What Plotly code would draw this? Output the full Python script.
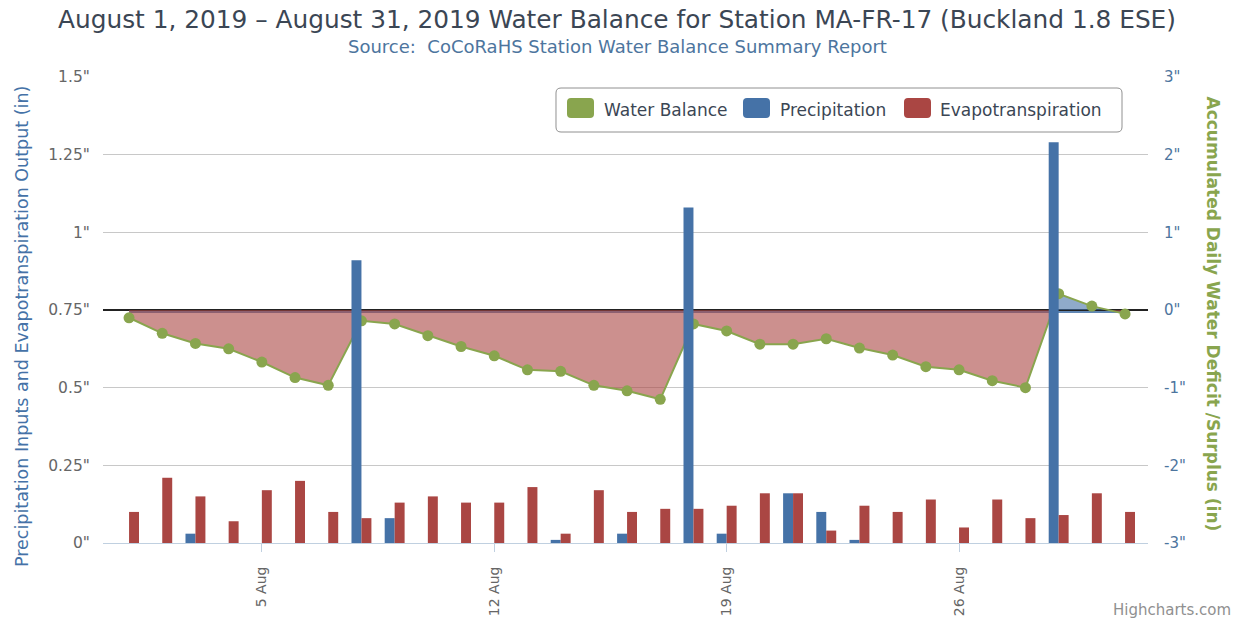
import plotly.graph_objects as go
import pandas as pd

# ---------------- data ----------------
days = pd.date_range("2019-08-01", "2019-08-31", freq="D")
precipitation = [0.00, 0.00, 0.03, 0.00, 0.00, 0.00, 0.00, 0.91, 0.08, 0.00,
                 0.00, 0.00, 0.00, 0.01, 0.00, 0.03, 0.00, 1.08, 0.03, 0.00,
                 0.16, 0.10, 0.01, 0.00, 0.00, 0.00, 0.00, 0.00, 1.29, 0.00, 0.00]
evapotranspiration = [0.10, 0.21, 0.15, 0.07, 0.17, 0.20, 0.10, 0.08, 0.13, 0.15,
                      0.13, 0.13, 0.18, 0.03, 0.17, 0.10, 0.11, 0.11, 0.12, 0.16,
                      0.16, 0.04, 0.12, 0.10, 0.14, 0.05, 0.14, 0.08, 0.09, 0.16, 0.10]
water_balance = [-0.10, -0.30, -0.43, -0.50, -0.67, -0.87, -0.97, -0.14, -0.18, -0.33,
                 -0.47, -0.59, -0.77, -0.79, -0.97, -1.04, -1.15, -0.18, -0.27, -0.44,
                 -0.44, -0.37, -0.49, -0.58, -0.73, -0.77, -0.91, -1.00, 0.21, 0.05, -0.05]

x_tick_dates = ["2019-08-05", "2019-08-12", "2019-08-19", "2019-08-26"]
x_tick_labels = ["5 Aug", "12 Aug", "19 Aug", "26 Aug"]
left_ticks = [0, 0.25, 0.5, 0.75, 1, 1.25, 1.5]
left_tick_labels = ['0"', '0.25"', '0.5"', '0.75"', '1"', '1.25"', '1.5"']
right_ticks = [-3, -2, -1, 0, 1, 2, 3]
right_tick_labels = ['-3"', '-2"', '-1"', '0"', '1"', '2"', '3"']

# ---------------- style / layout (pixels) ----------------
BLUE = "#4572A7"
RED = "#AA4643"
GREEN = "#89A54E"
FONT = "DejaVu Sans"
TITLE_COLOR = "#3b4654"
W, H = 1244, 622
L, R, T, B = 103, 1148, 77, 543      # plot area in pixels
DAY_MS = 86400000
BAR_W = 0.30 * DAY_MS


def px_x(px):
    return (px - L) / (R - L)


def px_y(py):
    return (B - py) / (B - T)


def rrect(x0, y0, x1, y1, r):
    """rounded rectangle path, pixel input -> paper coords"""
    pts = [
        ("M", [(x0 + r, y0)]), ("L", [(x1 - r, y0)]), ("Q", [(x1, y0), (x1, y0 + r)]),
        ("L", [(x1, y1 - r)]), ("Q", [(x1, y1), (x1 - r, y1)]),
        ("L", [(x0 + r, y1)]), ("Q", [(x0, y1), (x0, y1 - r)]),
        ("L", [(x0, y0 + r)]), ("Q", [(x0, y0), (x0 + r, y0)]),
    ]
    s = ""
    for cmd, ps in pts:
        s += cmd + " " + " ".join(f"{px_x(a):.5f},{px_y(b):.5f}" for a, b in ps) + " "
    return s + "Z"


def split_fill(xs, vs, positive):
    ox, oy = [], []
    for i, v in enumerate(vs):
        if i > 0:
            v0 = vs[i - 1]
            if v0 != 0 and v != 0 and ((v0 < 0) != (v < 0)):
                t = v0 / (v0 - v)
                ox.append(xs[i - 1] + (xs[i] - xs[i - 1]) * t)
                oy.append(0)
        ox.append(xs[i])
        oy.append(max(v, 0) if positive else min(v, 0))
    return ox, oy


fig = go.Figure()

nx, ny = split_fill(list(days), water_balance, False)
fig.add_trace(go.Scatter(x=nx, y=ny, mode="lines", line=dict(width=0, color=RED),
                         fill="tozeroy", fillcolor="rgba(170,70,67,0.6)",
                         yaxis="y", showlegend=False, hoverinfo="skip"))
pxs, pys = split_fill(list(days), water_balance, True)
fig.add_trace(go.Scatter(x=pxs, y=pys, mode="lines", line=dict(width=0, color=BLUE),
                         fill="tozeroy", fillcolor="rgba(69,114,167,0.6)",
                         yaxis="y", showlegend=False, hoverinfo="skip"))
fig.add_trace(go.Scatter(x=days, y=water_balance, name="Water Balance", mode="lines+markers",
                         line=dict(color=GREEN, width=2),
                         marker=dict(color=GREEN, size=11), yaxis="y", showlegend=False))

fig.add_trace(go.Bar(x=days, y=precipitation, name="Precipitation",
                     marker=dict(color=BLUE, line=dict(width=0)),
                     width=BAR_W, offset=-BAR_W, yaxis="y2", showlegend=False))
fig.add_trace(go.Bar(x=days, y=evapotranspiration, name="Evapotranspiration",
                     marker=dict(color=RED, line=dict(width=0)),
                     width=BAR_W, offset=0, yaxis="y2", showlegend=False))

shapes = [
    # thin blue edge just below the zero line (area threshold edge)
    dict(type="rect", xref="x", yref="y", x0=days[0], x1=days[-1],
         ysizemode="pixel", yanchor=0, y0=-1, y1=-3,
         fillcolor="rgba(69,114,167,0.85)", line=dict(width=0), layer="below"),
    # legend box
    dict(type="path", xref="paper", yref="paper", path=rrect(556, 88, 1122, 132, 5),
         line=dict(color="#909090", width=1), fillcolor="rgba(255,255,255,0)", layer="above"),
]
legend_items = [("Water Balance", GREEN, 567, 602), ("Precipitation", BLUE, 743, 778),
                ("Evapotranspiration", RED, 904, 938)]
annotations = []
for label, col, sx, tx in legend_items:
    shapes.append(dict(type="path", xref="paper", yref="paper", path=rrect(sx, 98, sx + 27, 118, 4),
                       line=dict(width=0), fillcolor=col, layer="above"))
    annotations.append(dict(text=label, x=px_x(tx), y=px_y(109.5), xref="paper", yref="paper",
                            xanchor="left", yanchor="middle", showarrow=False,
                            font=dict(family=FONT, size=17, color=TITLE_COLOR)))

annotations += [
    dict(text="Source:\u00a0 CoCoRaHS Station Water Balance Summary Report", x=px_x(617), y=px_y(46.5),
         xref="paper", yref="paper", xanchor="center", yanchor="middle", showarrow=False,
         font=dict(family=FONT, size=18, color="#4d759e")),
    dict(text="Precipitation Inputs and Evapotranspiration Output (in)", x=px_x(22), y=px_y(327),
         xref="paper", yref="paper", xanchor="center", yanchor="middle", showarrow=False,
         textangle=-90, font=dict(family=FONT, size=17.5, color=BLUE)),
    dict(text="<b>Accumulated Daily Water Deficit /Surplus (in)</b>", x=px_x(1213), y=px_y(313.5),
         xref="paper", yref="paper", xanchor="center", yanchor="middle", showarrow=False,
         textangle=90, font=dict(family=FONT, size=17, color=GREEN)),
    dict(text="Highcharts.com", x=px_x(1233), y=px_y(610), xref="paper", yref="paper",
         xanchor="right", yanchor="middle", showarrow=False,
         font=dict(family=FONT, size=15, color="#909090")),
]

fig.update_layout(
    width=W, height=H,
    autosize=False,
    margin=dict(l=L, r=W - R, t=T, b=H - B, pad=0),
    paper_bgcolor="white", plot_bgcolor="white",
    barmode="overlay",
    showlegend=False,
    hovermode=False,
    font=dict(family=FONT, color="#666666"),
    title=dict(text="August 1, 2019 – August 31, 2019 Water Balance for Station MA-FR-17 (Buckland 1.8 ESE)",
               x=617 / W, xref="container", xanchor="center",
               y=1 - 19 / H, yref="container",
               yanchor="middle", font=dict(family=FONT, size=24.8, color=TITLE_COLOR)),
    xaxis=dict(type="date", range=["2019-07-31 05:10", "2019-08-31 16:35"],
               tickvals=x_tick_dates, ticktext=x_tick_labels, tickangle=-90,
               ticks="outside", ticklen=8, tickcolor="#C0D0E0", showline=True,
               linecolor="#C0D0E0", linewidth=1, showgrid=False, zeroline=False,
               automargin=False,
               ticklabelstandoff=9, tickfont=dict(family=FONT, size=14, color="#666666")),
    yaxis=dict(side="right", range=[-3, 3], tickvals=right_ticks, ticktext=right_tick_labels,
               showgrid=True, gridcolor="#c8c8c8", gridwidth=1,
               zeroline=True, zerolinecolor="#222222", zerolinewidth=2,
               ticks="outside", ticklen=12, tickcolor="rgba(0,0,0,0)", automargin=False,
               tickfont=dict(family=FONT, size=15, color="#4d759e"), anchor="x"),
    yaxis2=dict(side="left", overlaying="y", range=[0, 1.5], tickvals=left_ticks,
                ticktext=left_tick_labels, showgrid=False, zeroline=False,
                ticks="outside", ticklen=9, tickcolor="rgba(0,0,0,0)", automargin=False,
                tickfont=dict(family=FONT, size=15.5, color="#666666"), anchor="x"),
    shapes=shapes,
    annotations=annotations,
)

fig.write_html("out.html", config={"displayModeBar": False},
               post_script="document.body.style.margin = '0';")
